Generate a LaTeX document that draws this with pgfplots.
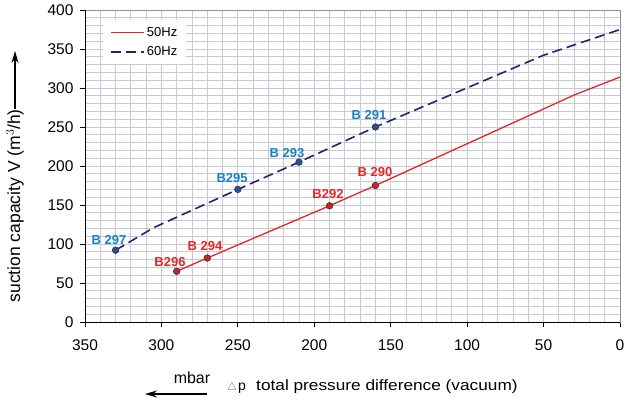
\documentclass[border=0pt]{standalone}
\usepackage{fontspec}
\setmainfont{Liberation Sans}
\usepackage{pgfplots}
\pgfplotsset{compat=1.18}
\usetikzlibrary{arrows.meta}

\definecolor{redline}{RGB}{228,38,38}
\definecolor{navyline}{RGB}{40,32,112}
\definecolor{markblue}{RGB}{40,80,150}
\definecolor{lblblue}{RGB}{22,130,200}
\definecolor{gridc}{RGB}{196,201,212}
\definecolor{framec}{RGB}{140,146,156}

\pgfplotstableread{
x y
290 65
270 82
190 149
160 175
30 291
0 314
}\fifty

\pgfplotstableread{
x y
330 92
305 121
250 170
210 205
160 250
50 342
0 375
}\sixty

\begin{document}
\begin{tikzpicture}
\useasboundingbox (-85pt,-80pt) rectangle (542pt,322pt);
\begin{axis}[
  at={(0,0)}, anchor=south west,
  scale only axis, width=535pt, height=312pt,
  x dir=reverse,
  xmin=0, xmax=350, ymin=0, ymax=400,
  xtick={0,50,...,350}, ytick={0,50,...,400},
  minor xtick={0,10,...,350}, minor ytick={0,10,...,400},
  grid=both,
  major grid style={gridc, line width=0.9pt},
  minor grid style={gridc, line width=0.9pt},
  minor tick length=0pt,
  major tick length=5pt,
  tick align=outside,
  tick style={black, line width=0.8pt},
  xtick pos=left, ytick pos=left,
  axis line style={framec, line width=0.8pt},
  ticklabel style={font=\fontsize{15.5}{15.5}\selectfont},
  /pgf/number format/assume math mode=true,
  xticklabel style={yshift=-9pt},
  yticklabel style={xshift=-3pt},
  clip=false,
  legend style={at={(axis description cs:0.034,0.968)}, anchor=north west,
    draw=none, fill=white, font=\fontsize{13}{13}\selectfont,
    row sep=5pt, inner xsep=7pt, inner ysep=5pt},
  legend cell align=left,
]
\addplot[redline, line width=1.3pt, mark=*, mark size=3.3pt,
  mark options={solid, fill=redline!90!black, draw=black!80, line width=0.6pt},
  mark indices={1,2,3,4},
  legend image code/.code={\draw[redline, line width=1.3pt] (0pt,0pt) -- (33pt,0pt);}] table {\fifty};
\addlegendentry{50Hz}
\addplot[navyline, line width=1.6pt, dash pattern=on 10pt off 5pt, mark=*, mark size=3.3pt,
  mark options={solid, fill=markblue, draw=black!80, line width=0.6pt},
  mark indices={1,3,4,5},
  legend image code/.code={\draw[navyline, line width=1.6pt, dash pattern=on 10pt off 5pt] (0pt,0pt) -- (33pt,0pt);}] table {\sixty};
\addlegendentry{60Hz}

\draw[black, line width=0.9pt] (axis cs:350,400) -- (axis cs:350,0) -- (axis cs:0,0);

\begin{scope}[every node/.style={font=\bfseries\fontsize{13}{13}\selectfont}]
\node[text=lblblue] at (axis cs:334.3,105.1) {B 297};
\node[text=lblblue] at (axis cs:253.8,184.6) {B295};
\node[text=lblblue] at (axis cs:217.8,216.7) {B 293};
\node[text=lblblue] at (axis cs:164.2,265.4) {B 291};
\node[text=redline] at (axis cs:294.4,76.9) {B296};
\node[text=redline] at (axis cs:271.5,97.4) {B 294};
\node[text=redline] at (axis cs:191,164.1) {B292};
\node[text=redline] at (axis cs:160.3,192.3) {B 290};
\end{scope}
\end{axis}

% y axis label with arrow
\node[rotate=90, font=\fontsize{17.5}{17.5}\selectfont, anchor=east, inner sep=1pt] at (-70pt,214pt) {suction capacity V (m$^3$/h)};
\draw[black, line width=1.3pt, -{Stealth[length=12pt, width=7pt]}] (-70pt,213pt) -- (-70pt,271pt);

% x axis label with arrow
\node[font=\fontsize{16}{16}\selectfont] at (107pt,-56pt) {mbar};
\draw[black, line width=1.3pt, -{Stealth[length=12pt, width=7pt]}] (122pt,-72pt) -- (60pt,-72pt);
\node[font=\fontsize{11}{11}\selectfont, anchor=base west, inner xsep=0pt, text=black!60] at (142pt,-68pt) {$\triangle$};
\node[font=\fontsize{14}{14}\selectfont, anchor=base west, inner xsep=0pt] at (153pt,-68pt) {\textrm{p}};
\node[font=\fontsize{15}{15}\selectfont, anchor=base west, inner xsep=0pt, xscale=1.15] at (171pt,-68pt) {total pressure difference (vacuum)};
\end{tikzpicture}
\end{document}
